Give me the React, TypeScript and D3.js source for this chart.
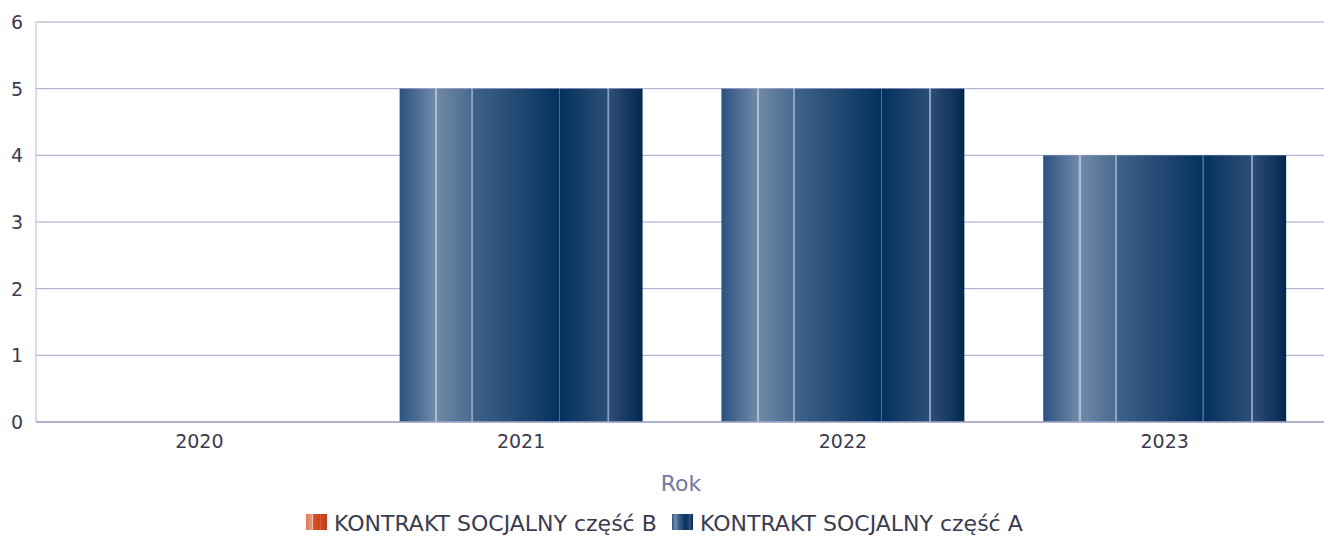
import React from "react";
import * as d3 from "d3";

const categories = ["2020", "2021", "2022", "2023"];
const seriesA = [0, 5, 5, 4]; // KONTRAKT SOCJALNY część A
const seriesB = [0, 0, 0, 0]; // KONTRAKT SOCJALNY część B
const yTicks = [0, 1, 2, 3, 4, 5, 6];
const legendLabels = ["KONTRAKT SOCJALNY część B", "KONTRAKT SOCJALNY część A"];
const xTitle = "Rok";

const W = 1324, H = 537;
const margin = { left: 36, right: -4, top: 22, bottom: 115 };
const FONT = "'DejaVu Sans', sans-serif";

const blueStops: [number, string][] = [
  [0, "#2b5282"], [0.145, "#7089a8"], [0.146, "#aabfd6"], [0.154, "#aabfd6"], [0.155, "#6f89a7"],
  [0.295, "#4b6b91"], [0.296, "#8ca5c2"], [0.303, "#8ca5c2"], [0.304, "#3f628a"],
  [0.655, "#06315f"], [0.656, "#4d6e94"], [0.661, "#4d6e94"], [0.662, "#05315f"],
  [0.855, "#2b4e77"], [0.856, "#87a0bd"], [0.863, "#87a0bd"], [0.864, "#2c4d76"],
  [1, "#03284f"],
];
const orangeStops: [number, string][] = [
  [0, "#e07a58"], [0.3, "#e89a7c"], [0.31, "#f2c0aa"], [0.36, "#d4532b"], [0.65, "#c9461e"],
  [0.66, "#e58b68"], [0.7, "#d24c22"], [1, "#b83d18"],
];

export default function App() {
  const x = d3.scaleBand<string>().domain(categories).range([margin.left, W - margin.right]).paddingInner(0.245).paddingOuter(0.13);
  const y = d3.scaleLinear().domain([0, 6]).range([H - margin.bottom, margin.top]);
  const bw = x.bandwidth();
  const y0 = y(0);
  return (
    <svg width={W} height={H} style={{ position: "absolute", left: 0, top: 0, fontFamily: FONT }}>
      <defs>
        <linearGradient id="gA" x1="0" x2="1" y1="0" y2="0">
          {blueStops.map(([o, c], i) => <stop key={i} offset={o} stopColor={c} />)}
        </linearGradient>
        <linearGradient id="gB" x1="0" x2="1" y1="0" y2="0">
          {orangeStops.map(([o, c], i) => <stop key={i} offset={o} stopColor={c} />)}
        </linearGradient>
      </defs>
      <rect width={W} height={H} fill="#fff" />
      {yTicks.map((t) => (
        <g key={t}>
          <line x1={margin.left} x2={W} y1={y(t)} y2={y(t)} stroke="#a4a7cb" strokeWidth={1} />
          <text x={23} y={y(t)} dy="0.36em" textAnchor="end" fontSize={19} fill="#3b3b4f">{t}</text>
        </g>
      ))}
      <line x1={margin.left} x2={margin.left} y1={margin.top} y2={y0} stroke="#b8bad4" strokeWidth={1} />
      {categories.map((c, i) => (
        <g key={c}>
          {seriesA[i] > 0 && (
            <rect x={x(c)} y={y(seriesA[i])} width={bw} height={y0 - y(seriesA[i])} fill="url(#gA)" />
          )}
          {seriesB[i] > 0 && (
            <rect x={x(c)} y={y(seriesA[i] + seriesB[i])} width={bw} height={y(seriesA[i]) - y(seriesA[i] + seriesB[i])} fill="url(#gB)" />
          )}
          <text x={(x(c) as number) + bw / 2} y={441} dy="0.36em" textAnchor="middle" fontSize={19} fill="#3b3b4f">{c}</text>
        </g>
      ))}
      <line x1={margin.left} x2={W} y1={y0} y2={y0} stroke="#a4a7cb" strokeWidth={1.5} />
      <text x={681} y={483} dy="0.36em" textAnchor="middle" fontSize={22} fill="#7479a3">{xTitle}</text>
      <g>
        <rect x={306} y={514} width={21} height={16} fill="url(#gB)" />
        <text x={334} y={523} dy="0.36em" fontSize={22} fill="#3b3b4f">{legendLabels[0]}</text>
        <rect x={672} y={514} width={21} height={16} fill="url(#gA)" />
        <text x={700} y={523} dy="0.36em" fontSize={22} fill="#3b3b4f">{legendLabels[1]}</text>
      </g>
    </svg>
  );
}
